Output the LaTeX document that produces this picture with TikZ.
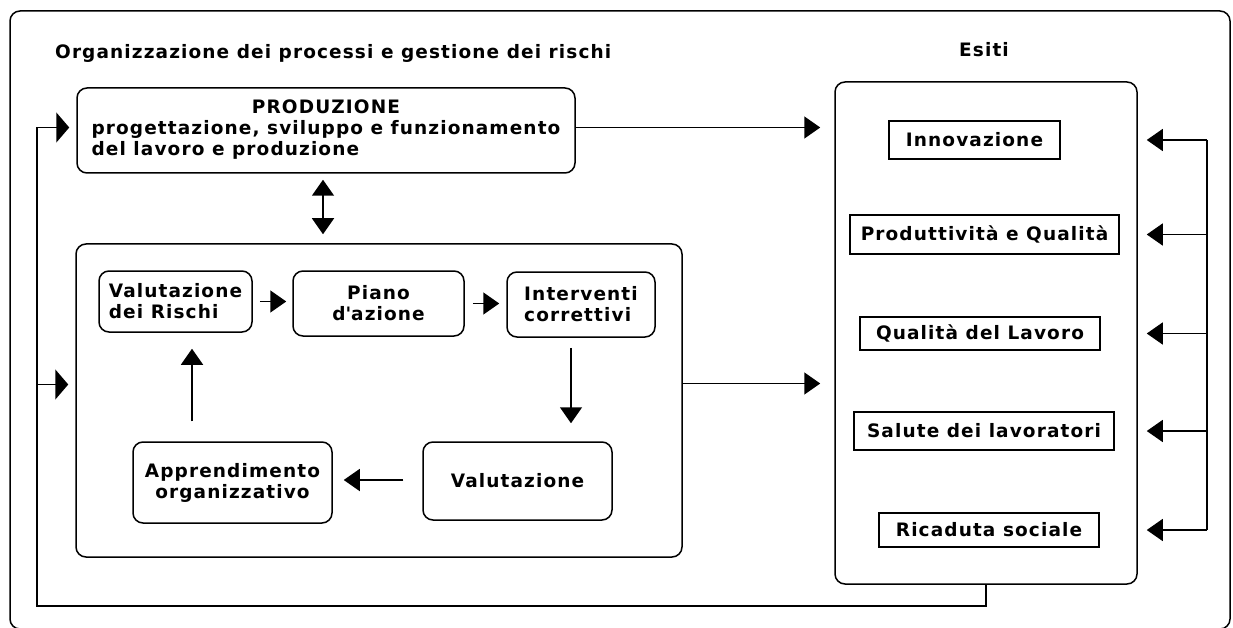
\documentclass[tikz,border=0pt]{standalone}
\usepackage{fontspec}
\setmainfont{DejaVu Sans}[LetterSpace=6]
\usetikzlibrary{arrows.meta}

\begin{document}
\begin{tikzpicture}[x=1pt, y=-1pt,
        every node/.style={font=\fontsize{18.5pt}{21pt}\selectfont\bfseries, inner sep=0pt},
        >={Triangle[length=16pt,width=22pt]},
        phase/.style={draw, line width=1.5pt, rounded corners=10pt},
        outcome/.style={draw, line width=1.5pt},
        arr/.style={line width=1.5pt, ->},
        feed/.style={line width=1.5pt, -{Triangle[length=13pt,width=30pt]}, shorten >=7pt}]
        \useasboundingbox (0,0) rectangle (1233,628);
        % Frame
        \draw[line width=1.5pt, rounded corners=10pt] (10,11) rectangle (1230,629);
        % Titles
        \node[anchor=base west] (torg) at (55,59) {Organizzazione dei processi e gestione dei rischi};
        \node[anchor=base] (tesiti) at (984,57) {Esiti};

        % Production
        \node[phase, minimum width=498pt, minimum height=85pt] (prod) at (326,130.5)
            {\begin{tabular}{@{}l@{}}\multicolumn{1}{@{}c@{}}{PRODUZIONE}\\progettazione, sviluppo e funzionamento\\del lavoro e produzione\end{tabular}};
        \coordinate (pin) at ([yshift=3pt]prod.west);
        \coordinate (pout) at ([yshift=3pt]prod.east);

        % Process and risk management
        \node[phase, minimum width=606pt, minimum height=313pt] (gestione) at (379,400.5) {};
        \coordinate (gin) at ([yshift=16pt]gestione.west);
        \coordinate (gout) at ([yshift=17pt]gestione.east);
        \node[phase, minimum width=153pt, minimum height=61pt, align=left] (valrisk) at (175.5,301.5) {Valutazione\\dei Rischi};
        \node[phase, minimum width=171pt, minimum height=65pt, align=center] (piano) at (378.5,303.5) {Piano\\d\textquotesingle azione};
        \node[phase, minimum width=148pt, minimum height=65pt, align=left] (interv) at (581,304.5) {Interventi\\correttivi};
        \node[phase, minimum width=189pt, minimum height=78pt] (valut) at (517.5,481) {Valutazione};
        \node[phase, minimum width=199pt, minimum height=81pt, align=center] (appr) at (232.5,482.5) {Apprendimento\\organizzativo};

        % Outcomes
        \node[phase, minimum width=302pt, minimum height=502pt] (esiti) at (986,333) {};
        \node[outcome, minimum width=171pt, minimum height=38pt] (innov) at (974.5,140) {Innovazione};
        \node[outcome, minimum width=269pt, minimum height=39pt] (prodq) at (984.5,234.5) {Produttività e Qualità};
        \node[outcome, minimum width=240pt, minimum height=33pt] (qlav) at (980,333.5) {Qualità del Lavoro};
        \node[outcome, minimum width=260pt, minimum height=38pt] (salute) at (984,431) {Salute dei lavoratori};
        \node[outcome, minimum width=220pt, minimum height=34pt] (ricad) at (989,530) {Ricaduta sociale};

        % Production arrows
        \draw[arr, shorten >=14pt] (pout) -- (pout -| esiti.west);
        \draw[line width=1.5pt, <->, shorten <=6pt, shorten >=9pt] ([xshift=-3pt]prod.south) -- ([xshift=-3pt]prod.south |- gestione.north);

        % Cycle
        \draw[arr, shorten <=7pt, shorten >=6pt] (valrisk.east) -- (valrisk.east -| piano.west);
        \draw[arr, shorten <=8pt, shorten >=7pt] (piano.east) -- (piano.east -| interv.west);
        \draw[arr, shorten <=10pt, shorten >=18pt] ([xshift=-10pt]interv.south) -- ([xshift=-10pt]interv.south |- valut.north);
        \draw[arr, shorten <=19pt, shorten >=11pt] ([yshift=1pt]valut.west) -- ([yshift=1pt]valut.west -| appr.east);
        \draw[arr, shorten <=20pt, shorten >=16pt] ([xshift=-40.5pt]appr.north) -- ([xshift=-40.5pt]appr.north |- valrisk.south);

        % Process to outcomes
        \draw[arr, shorten >=14pt] (gout) -- (gout -| esiti.west);

        % Feedback
        \coordinate (fbtop) at (1207,140);
        \draw[line width=1.5pt] (fbtop) -- (fbtop |- ricad);
        \draw[arr, shorten >=9pt] (fbtop |- innov) -- (innov -| esiti.east);
        \draw[arr, shorten >=9pt] (fbtop |- prodq) -- (prodq -| esiti.east);
        \draw[arr, shorten >=9pt] (fbtop |- qlav) -- (qlav -| esiti.east);
        \draw[arr, shorten >=9pt] (fbtop |- salute) -- (salute -| esiti.east);
        \draw[arr, shorten >=9pt] (fbtop |- ricad) -- (ricad -| esiti.east);

        % Loop back
        \coordinate (loop) at (37,606);
        \draw[feed] (esiti.south) |- (loop) |- (pin);
        \draw[feed] (loop |- gin) -- (gin);
    \end{tikzpicture}
\end{document}
